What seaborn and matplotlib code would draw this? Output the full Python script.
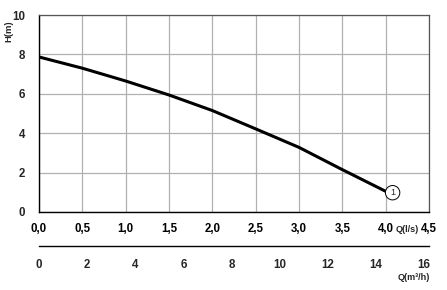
import matplotlib
matplotlib.use("Agg")
import matplotlib.pyplot as plt
import seaborn as sns
import pandas as pd
import numpy as np
from matplotlib.ticker import MultipleLocator, FixedLocator

# data
q_ls = [0.0, 0.5, 1.0, 1.5, 2.0, 2.5, 3.0, 3.5, 4.0]
h_m = [7.87, 7.3, 6.65, 5.94, 5.15, 4.22, 3.28, 2.15, 1.05]
x_ticks = [0.0, 0.5, 1.0, 1.5, 2.0, 2.5, 3.0, 3.5, 4.0, 4.5]
x_labels = ["0,0", "0,5", "1,0", "1,5", "2,0", "2,5", "3,0", "3,5", "4,0", "4,5"]
y_ticks = [0, 2, 4, 6, 8, 10]
m3h_ticks = [0, 2, 4, 6, 8, 10, 12, 14, 16]

sns.set_style("white")
plt.rcParams['font.family'] = ['Liberation Sans', 'DejaVu Sans']

df = pd.DataFrame({"Q": q_ls, "H": h_m})

fig = plt.figure(figsize=(4.47, 2.90), dpi=100)
ax = fig.add_axes([39/447, 1-212/290, 390/447, 197/290])

sns.lineplot(data=df, x="Q", y="H", ax=ax, color="black", linewidth=2.2)

ax.set_xlim(0, 4.5)
ax.set_ylim(0, 10)
ax.set_xticks(x_ticks)
ax.set_xticklabels(x_labels, fontweight="bold", fontsize=8.3)
ax.set_yticks(y_ticks)
ax.set_yticklabels([str(v) for v in y_ticks], fontweight="bold", fontsize=8.3)
ax.xaxis.set_minor_locator(MultipleLocator(0.1))
ax.yaxis.set_minor_locator(MultipleLocator(0.4))
ax.grid(True, which="major", color="#b0b0b0", linewidth=0.9)
ax.tick_params(axis="x", which="major", direction="in", length=3, width=0.8, pad=8, colors="black")
ax.tick_params(axis="x", which="minor", direction="in", length=2, width=0.6)
ax.tick_params(axis="y", which="major", direction="out", length=3, width=0.8, pad=7)
ax.tick_params(axis="y", which="minor", direction="out", length=2, width=0.6)
ax.set_xlabel("")
ax.set_ylabel("")
for s in ["left", "bottom"]:
    ax.spines[s].set_color("black")
    ax.spines[s].set_linewidth(1.0)
for s in ["top", "right"]:
    ax.spines[s].set_color("#555555")
    ax.spines[s].set_linewidth(0.9)

# end-of-curve marker
ax.annotate("1", xy=(q_ls[-1], h_m[-1]), xytext=(5, -1), textcoords="offset points",
            ha="center", va="center", fontsize=6.5,
            bbox=dict(boxstyle="circle,pad=0.3", fc="white", ec="black", lw=0.7))

fig.text(9/447, 1-31/290, "H(m)", rotation=90, ha="center", va="center",
         fontsize=6.8, fontweight="bold")
fig.text(407/447, 1-229/290, "Q(l/s)", ha="center", va="center",
         fontsize=6.5, fontweight="bold")

# second axis in m3/h
ax2 = fig.add_axes([39/447, 1-246/290, 390/447, 0.001])
ax2.set_xlim(0, 4.5 * 3.6)
ax2.set_ylim(0, 1)
ax2.set_yticks([])
ax2.set_xticks(m3h_ticks)
ax2.set_xticklabels([str(v) for v in m3h_ticks], fontweight="bold", fontsize=8.3)
ax2.xaxis.set_minor_locator(MultipleLocator(0.5))
ax2.tick_params(axis="x", which="major", direction="in", length=3, width=0.8, pad=9)
ax2.tick_params(axis="x", which="minor", direction="in", length=2, width=0.6)
for s in ["top", "right", "left"]:
    ax2.spines[s].set_visible(False)
ax2.spines["bottom"].set_color("black")
ax2.spines["bottom"].set_linewidth(1.0)
ax2.patch.set_alpha(0)

fig.text(414/447, 1-278/290, "Q(m³/h)", ha="center", va="center",
         fontsize=6.5, fontweight="bold")

fig.savefig("out.png", dpi=100)
